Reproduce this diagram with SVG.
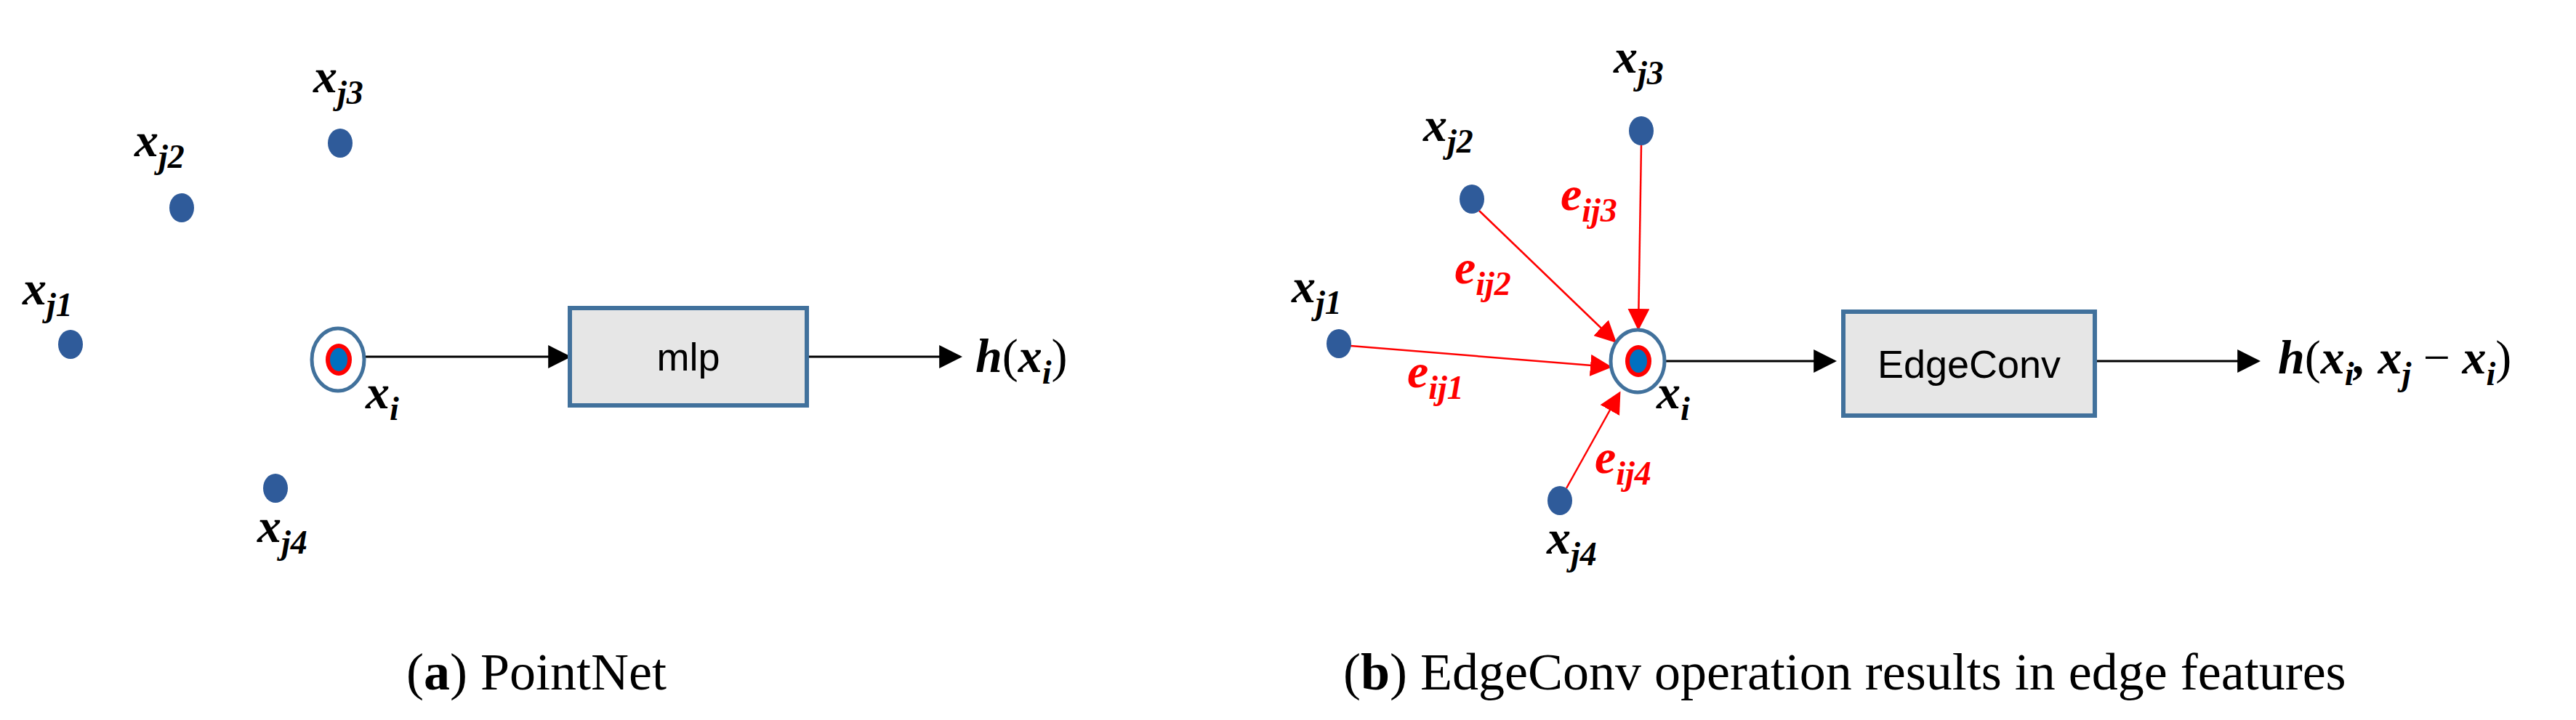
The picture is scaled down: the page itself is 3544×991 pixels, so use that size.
<svg xmlns="http://www.w3.org/2000/svg" width="3544" height="991" viewBox="0 0 3544 991">
<style>
.m{font-family:"Liberation Serif",serif;font-style:italic;font-weight:bold;font-size:66px;fill:#000}
.s{font-size:46px}
.r{fill:#ff0000}
.dot{fill:#2f5b9a}
.box{fill:#e6e6e6;stroke:#41719c;stroke-width:6}
.bt{font-family:"Liberation Sans Narrow","Liberation Sans",sans-serif;font-size:54px;text-anchor:middle}
.cap{font-family:"Liberation Serif",serif;font-size:72px}
.bl{stroke:#000;stroke-width:3;fill:none}
.rl{stroke:#ff0000;stroke-width:2.5;fill:none}
</style>
<defs>
<marker id="ab" markerWidth="10" markerHeight="10" refX="9" refY="5" orient="auto" markerUnits="userSpaceOnUse" viewBox="0 0 10 10"><path d="M0,0L10,5L0,10z" fill="#000"/></marker>
<marker id="ar" viewBox="0 0 10 10" refX="9" refY="5" markerWidth="30" markerHeight="30" orient="auto" markerUnits="userSpaceOnUse"><path d="M0,0L10,5L0,10z" fill="#ff0000"/></marker>
<marker id="abk" viewBox="0 0 10 10" refX="9" refY="5" markerWidth="32" markerHeight="32" orient="auto" markerUnits="userSpaceOnUse"><path d="M0,0L10,5L0,10z" fill="#000"/></marker>
</defs>
<g id="connectors">
<line class="bl" x1="503" y1="491" x2="783" y2="491" marker-end="url(#abk)"/>
<line class="bl" x1="1110" y1="491" x2="1321" y2="491" marker-end="url(#abk)"/>
<line class="bl" x1="2291" y1="497" x2="2524" y2="497" marker-end="url(#abk)"/>
<line class="bl" x1="2882" y1="497" x2="3107" y2="497" marker-end="url(#abk)"/>
<line class="rl" x1="2258" y1="200" x2="2254" y2="452" marker-end="url(#ar)"/>
<line class="rl" x1="2035" y1="290" x2="2222" y2="470" marker-end="url(#ar)"/>
<line class="rl" x1="1858" y1="476" x2="2215" y2="505" marker-end="url(#ar)"/>
<line class="rl" x1="2155" y1="672" x2="2228" y2="541" marker-end="url(#ar)"/>
</g>
<g id="a-xj3"><ellipse class="dot" cx="468" cy="197" rx="17" ry="20"/><text class="m" x="431" y="127">x<tspan class="s" dy="16">j3</tspan></text></g>
<g id="a-xj2"><ellipse class="dot" cx="250" cy="286" rx="17" ry="20"/><text class="m" x="185" y="215">x<tspan class="s" dy="16">j2</tspan></text></g>
<g id="a-xj1"><ellipse class="dot" cx="97" cy="474" rx="17" ry="20"/><text class="m" x="31" y="419">x<tspan class="s" dy="16">j1</tspan></text></g>
<g id="a-xj4"><ellipse class="dot" cx="379" cy="672" rx="17" ry="20"/><text class="m" x="354" y="746">x<tspan class="s" dy="16">j4</tspan></text></g>
<g id="a-xi"><ellipse cx="465" cy="495" rx="36" ry="43" fill="#fff" stroke="#41719c" stroke-width="5"/><ellipse cx="466" cy="495" rx="18" ry="22" fill="#ff0000"/><ellipse cx="466" cy="495" rx="12" ry="16" fill="#0070c0"/><text class="m" x="503" y="562">x<tspan class="s" dy="16">i</tspan></text></g>
<g id="a-mlp"><rect class="box" x="784" y="424" width="326" height="134"/><text class="bt" x="947" y="510">mlp</text></g>
<g id="a-out"><text class="m" x="1342" y="512" font-size="72">h<tspan font-weight="normal" font-style="normal">(</tspan>x<tspan class="s" dy="16">i</tspan><tspan font-weight="normal" font-style="normal" dy="-16">)</tspan></text></g>
<text class="cap" x="559" y="949">(<tspan font-weight="bold">a</tspan>) PointNet</text>

<g id="b-xj3"><ellipse class="dot" cx="2258" cy="180" rx="17" ry="20"/><text class="m" x="2220" y="100">x<tspan class="s" dy="16">j3</tspan></text></g>
<g id="b-xj2"><ellipse class="dot" cx="2025" cy="274" rx="17" ry="20"/><text class="m" x="1958" y="194">x<tspan class="s" dy="16">j2</tspan></text></g>
<g id="b-xj1"><ellipse class="dot" cx="1842" cy="473" rx="17" ry="20"/><text class="m" x="1777" y="416">x<tspan class="s" dy="16">j1</tspan></text></g>
<g id="b-xj4"><ellipse class="dot" cx="2146" cy="689" rx="17" ry="20"/><text class="m" x="2128" y="762">x<tspan class="s" dy="16">j4</tspan></text></g>
<g id="b-xi"><ellipse cx="2253" cy="497" rx="37" ry="43" fill="#fff" stroke="#41719c" stroke-width="5"/><ellipse cx="2254" cy="497" rx="18" ry="22" fill="#ff0000"/><ellipse cx="2254" cy="497" rx="12" ry="16" fill="#0070c0"/><text class="m" x="2279" y="562">x<tspan class="s" dy="16">i</tspan></text></g>
<g id="b-labels">
<text class="m r" x="2147" y="289">e<tspan class="s" dy="16">ij3</tspan></text>
<text class="m r" x="2001" y="390">e<tspan class="s" dy="16">ij2</tspan></text>
<text class="m r" x="1936" y="533">e<tspan class="s" dy="16">ij1</tspan></text>
<text class="m r" x="2194" y="651">e<tspan class="s" dy="16">ij4</tspan></text>
</g>
<g id="b-edgeconv"><rect class="box" x="2536" y="429" width="346" height="143"/><text class="bt" x="2709" y="520">EdgeConv</text></g>
<g id="b-out"><text class="m" x="3134" y="514" font-size="72">h<tspan font-weight="normal" font-style="normal">(</tspan>x<tspan class="s" dy="16">i</tspan><tspan dy="-16">, x</tspan><tspan class="s" dy="16">j</tspan><tspan font-weight="normal" font-style="normal" dy="-16"> − </tspan>x<tspan class="s" dy="16">i</tspan><tspan font-weight="normal" font-style="normal" dy="-16">)</tspan></text></g>
<text class="cap" x="1848" y="949">(<tspan font-weight="bold">b</tspan>) EdgeConv operation results in edge features</text>
</svg>
